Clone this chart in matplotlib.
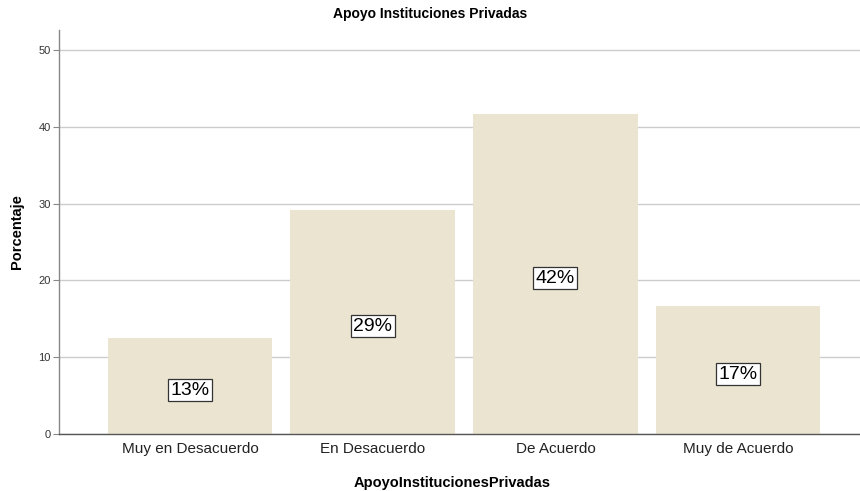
import matplotlib
matplotlib.use("Agg")
import matplotlib.pyplot as plt

plt.rcParams['font.family'] = ['Liberation Sans', 'DejaVu Sans']

categories = ["Muy en Desacuerdo", "En Desacuerdo", "De Acuerdo", "Muy de Acuerdo"]
values = [12.5, 29.17, 41.67, 16.67]
labels = ["13%", "29%", "42%", "17%"]
yticks = [0, 10, 20, 30, 40, 50]

fig = plt.figure(figsize=(8.6, 4.91), dpi=100)
ax = fig.add_axes([59/860, 1 - 434/491, 1 - 59/860, (434 - 30)/491])

x = list(range(len(categories)))
ax.bar(x, values, width=0.9, color="#EAE4D0", zorder=2)
for xi, v, lab in zip(x, values, labels):
    ax.annotate(lab, xy=(xi, v / 2), xytext=(0, -3), textcoords="offset points",
                ha="center", va="center", fontsize=14, zorder=3,
                bbox=dict(boxstyle="square,pad=0.12", facecolor="white", edgecolor="#333333", linewidth=0.9))

ax.set_xlim(-0.717, 3.667)
ax.set_ylim(0, 52.6)
ax.set_yticks(yticks)
ax.set_yticklabels([str(t) for t in yticks], fontsize=8, color="#333333")
ax.set_xticks(x)
ax.set_xticklabels(categories, fontsize=11, color="#222222")
ax.tick_params(axis="x", length=0, pad=6)
ax.tick_params(axis="y", length=4, width=0.8, color="#888888", pad=2, direction="out")
ax.yaxis.grid(True, color="#cccccc", linewidth=1.0, zorder=0)
ax.set_axisbelow(True)
for s in ["top", "right"]:
    ax.spines[s].set_visible(False)
ax.spines["left"].set_color("#888888")
ax.spines["left"].set_linewidth(1.0)
ax.spines["bottom"].set_color("#555555")
ax.spines["bottom"].set_linewidth(1.0)

fig.text(430/860, 1 - 14/491, "Apoyo Instituciones Privadas", ha="center", va="center",
         fontsize=10, fontweight="bold")
fig.text(17/860, 1 - 232/491, "Porcentaje", ha="center", va="center", rotation=90,
         fontsize=10.5, fontweight="bold")
fig.text(452/860, 1 - 483/491, "ApoyoInstitucionesPrivadas", ha="center", va="center",
         fontsize=10.5, fontweight="bold")

fig.savefig("out.png", dpi=100)
